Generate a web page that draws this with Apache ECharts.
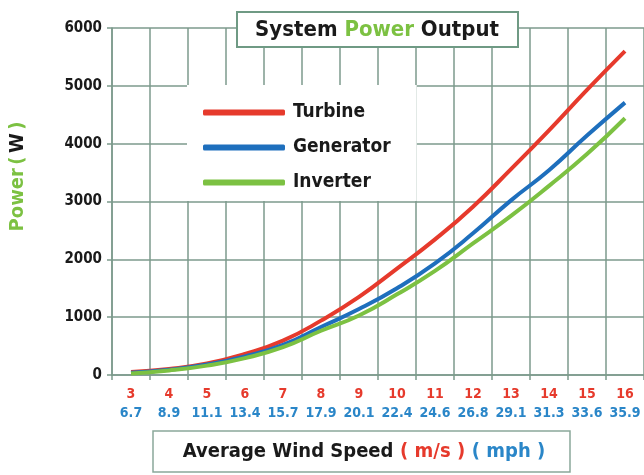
<!DOCTYPE html>
<html>
<head>
<meta charset="utf-8">
<script src="https://cdn.jsdelivr.net/npm/echarts@6/dist/echarts.min.js"></script>
<style>
  html, body { margin: 0; padding: 0; background: #fff; }
  #chart { width: 644px; height: 475px; }
</style>
</head>
<body>
<div id="chart"></div>
<script>
// wind speed categories
const speedMs = ['3', '4', '5', '6', '7', '8', '9', '10', '11', '12', '13', '14', '15', '16']
const speedMph = ['6.7', '8.9', '11.1', '13.4', '15.7', '17.9', '20.1', '22.4', '24.6', '26.8', '29.1', '31.3', '33.6', '35.9']

// power output (W)
const turbine = [50, 105, 200, 365, 595, 940, 1350, 1840, 2345, 2910, 3560, 4230, 4930, 5600]
const generator = [40, 92, 180, 320, 520, 830, 1140, 1500, 1930, 2450, 3020, 3540, 4140, 4710]
const inverter = [28, 78, 162, 292, 482, 765, 1030, 1395, 1800, 2275, 2750, 3270, 3820, 4440]

const yTicks = [0, 1000, 2000, 3000, 4000, 5000, 6000]

const FONT = '"Liberation Sans Narrow", "DejaVu Sans Condensed", sans-serif'
const gridColor = '#7c9a8c'
const red = '#e63a2c'
const blue = '#1e6fbd'
const green = '#7cc142'

const chart = echarts.init(document.getElementById('chart'))

function lineSeries (name, color, data) {
  return {
    name: name,
    type: 'line',
    smooth: true,
    symbol: 'none',
    lineStyle: { color: color, width: 4 },
    itemStyle: { color: color },
    data: data
  }
}

chart.setOption({
  animation: false,
  textStyle: { fontFamily: FONT },
  grid: { left: 110, right: 0, top: 28, bottom: 100 },
  legend: {
    left: 187,
    top: 85,
    orient: 'vertical',
    backgroundColor: '#fff',
    padding: [18, 26, 9, 16],
    itemWidth: 82,
    itemHeight: 6,
    itemGap: 16,
    icon: 'roundRect',
    textStyle: {
      fontFamily: FONT,
      fontSize: 19,
      fontWeight: 'bold',
      color: '#1a1a1a',
      padding: [0, 0, 0, 3]
    },
    data: ['Turbine', 'Generator', 'Inverter']
  },
  xAxis: {
    type: 'category',
    data: speedMs,
    boundaryGap: true,
    axisLine: { lineStyle: { color: gridColor, width: 1.5 } },
    axisTick: { show: true, length: 5, lineStyle: { color: gridColor, width: 1.5 } },
    splitLine: { show: true, interval: 0, lineStyle: { color: gridColor, width: 1.5 } },
    axisLabel: {
      interval: 0,
      margin: 10,
      formatter: function (val, idx) {
        return '{a|' + val + '}\n{b|' + speedMph[idx] + '}'
      },
      rich: {
        a: { color: red, fontSize: 14, fontWeight: 'bold', fontFamily: FONT, lineHeight: 19 },
        b: { color: '#2a86c8', fontSize: 14, fontWeight: 'bold', fontFamily: FONT, lineHeight: 19 }
      }
    }
  },
  yAxis: {
    type: 'value',
    min: 0,
    max: 6000,
    interval: 1000,
    name: '{g|Power} {g|(} {k|W} {g|)}',
    nameLocation: 'middle',
    nameGap: 84,
    nameRotate: 90,
    nameTextStyle: {
      padding: [0, 0, 0, 50],
      rich: {
        g: { color: green, fontSize: 20, fontWeight: 'bold', fontFamily: FONT },
        k: { color: '#1a1a1a', fontSize: 20, fontWeight: 'bold', fontFamily: FONT }
      }
    },
    axisLine: { show: true, lineStyle: { color: gridColor, width: 1.5 } },
    axisTick: { show: true, length: 5, lineStyle: { color: gridColor, width: 1.5 } },
    splitLine: { show: true, lineStyle: { color: gridColor, width: 1.5 } },
    axisLabel: {
      margin: 10,
      color: '#1a1a1a',
      fontSize: 15,
      fontWeight: 'bold',
      fontFamily: FONT,
      formatter: function (v) { return yTicks.indexOf(v) >= 0 ? String(v) : '' }
    }
  },
  graphic: [
    {
      type: 'rect',
      z: 100,
      shape: { x: 237, y: 12, width: 281, height: 35 },
      style: { fill: '#fff', stroke: '#6f9a84', lineWidth: 2 }
    },
    {
      type: 'text',
      z: 101,
      x: 377,
      y: 30,
      style: {
        text: '{k|System }{g|Power}{k| Output}',
        align: 'center',
        verticalAlign: 'middle',
        rich: {
          k: { fill: '#1a1a1a', fontSize: 22, fontWeight: 'bold', fontFamily: FONT },
          g: { fill: green, fontSize: 22, fontWeight: 'bold', fontFamily: FONT }
        }
      }
    },
    {
      type: 'rect',
      z: 100,
      shape: { x: 153, y: 431, width: 417, height: 41 },
      style: { fill: '#fff', stroke: '#8aa89a', lineWidth: 1.5 }
    },
    {
      type: 'text',
      z: 101,
      x: 364,
      y: 452,
      style: {
        text: '{k|Average Wind Speed}  {r|( m/s )}  {b|( mph )}',
        align: 'center',
        verticalAlign: 'middle',
        rich: {
          k: { fill: '#1a1a1a', fontSize: 20, fontWeight: 'bold', fontFamily: FONT },
          r: { fill: red, fontSize: 20, fontWeight: 'bold', fontFamily: FONT },
          b: { fill: '#2a86c8', fontSize: 20, fontWeight: 'bold', fontFamily: FONT }
        }
      }
    }
  ],
  series: [
    lineSeries('Turbine', red, turbine),
    lineSeries('Generator', blue, generator),
    lineSeries('Inverter', green, inverter)
  ]
})
</script>
</body>
</html>
